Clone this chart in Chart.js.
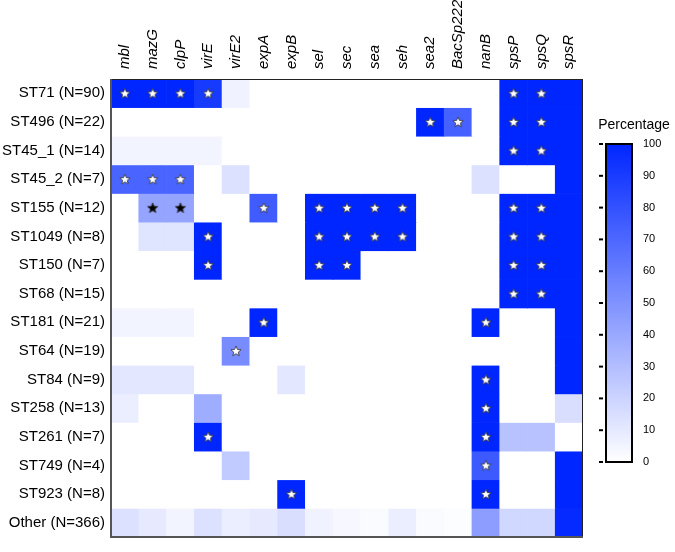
<!DOCTYPE html>
<html lang="en">
<head>
<meta charset="UTF-8">
<title>Gene prevalence by ST</title>
<script src="https://cdn.jsdelivr.net/npm/chart.js"></script>
<style>
  html, body { margin: 0; padding: 0; background: #fff; }
  .wrap { width: 675px; height: 552px; position: relative; }
</style>
</head>
<body>
<div class="wrap"><canvas id="heat"></canvas></div>
<script>
// columns (genes) and rows (sequence types)
const genes = ['mbl', 'mazG', 'clpP', 'virE', 'virE2', 'expA', 'expB', 'sel', 'sec', 'sea', 'seh',
               'sea2', 'BacSp222', 'nanB', 'spsP', 'spsQ', 'spsR'];
const groups = ['ST71 (N=90)', 'ST496 (N=22)', 'ST45_1 (N=14)', 'ST45_2 (N=7)', 'ST155 (N=12)',
                'ST1049 (N=8)', 'ST150 (N=7)', 'ST68 (N=15)', 'ST181 (N=21)', 'ST64 (N=19)',
                'ST84 (N=9)', 'ST258 (N=13)', 'ST261 (N=7)', 'ST749 (N=4)', 'ST923 (N=8)', 'Other (N=366)'];

// percentage of isolates carrying each gene, one list per row, in gene order
const pct = [
  [100, 100, 100, 91, 6, 0, 0, 0, 0, 0, 0, 0, 0, 0, 100, 100, 100],
  [0, 0, 0, 0, 0, 0, 0, 0, 0, 0, 0, 100, 73, 0, 100, 100, 100],
  [5, 5, 5, 5, 0, 0, 0, 0, 0, 0, 0, 0, 0, 0, 100, 100, 100],
  [71, 71, 71, 0, 14, 0, 0, 0, 0, 0, 0, 0, 0, 14, 0, 0, 100],
  [0, 42, 42, 0, 0, 75, 0, 100, 100, 100, 100, 0, 0, 0, 100, 100, 100],
  [0, 12, 12, 100, 0, 0, 0, 100, 100, 100, 100, 0, 0, 0, 100, 100, 100],
  [0, 0, 0, 100, 0, 0, 0, 100, 100, 0, 0, 0, 0, 0, 100, 100, 100],
  [0, 0, 0, 0, 0, 0, 0, 0, 0, 0, 0, 0, 0, 0, 100, 100, 100],
  [5, 5, 5, 0, 0, 100, 0, 0, 0, 0, 0, 0, 0, 100, 0, 0, 100],
  [0, 0, 0, 0, 53, 0, 0, 0, 0, 0, 0, 0, 0, 0, 0, 0, 100],
  [11, 11, 11, 0, 0, 0, 11, 0, 0, 0, 0, 0, 0, 100, 0, 0, 100],
  [8, 0, 0, 38, 0, 0, 0, 0, 0, 0, 0, 0, 0, 100, 0, 0, 15],
  [0, 0, 0, 100, 0, 0, 0, 0, 0, 0, 0, 0, 0, 100, 28, 28, 0],
  [0, 0, 0, 0, 24, 0, 0, 0, 0, 0, 0, 0, 0, 76, 0, 0, 100],
  [0, 0, 0, 0, 0, 0, 100, 0, 0, 0, 0, 0, 0, 100, 0, 0, 100],
  [14, 10, 5, 14, 8, 10, 15, 6, 3, 2, 8, 2, 1, 45, 18, 18, 98]
];

// significance markers: 1 = white star, 2 = black star
const stars = [
  [1, 1, 1, 1, 0, 0, 0, 0, 0, 0, 0, 0, 0, 0, 1, 1, 0],
  [0, 0, 0, 0, 0, 0, 0, 0, 0, 0, 0, 1, 1, 0, 1, 1, 0],
  [0, 0, 0, 0, 0, 0, 0, 0, 0, 0, 0, 0, 0, 0, 1, 1, 0],
  [1, 1, 1, 0, 0, 0, 0, 0, 0, 0, 0, 0, 0, 0, 0, 0, 0],
  [0, 2, 2, 0, 0, 1, 0, 1, 1, 1, 1, 0, 0, 0, 1, 1, 0],
  [0, 0, 0, 1, 0, 0, 0, 1, 1, 1, 1, 0, 0, 0, 1, 1, 0],
  [0, 0, 0, 1, 0, 0, 0, 1, 1, 0, 0, 0, 0, 0, 1, 1, 0],
  [0, 0, 0, 0, 0, 0, 0, 0, 0, 0, 0, 0, 0, 0, 1, 1, 0],
  [0, 0, 0, 0, 0, 1, 0, 0, 0, 0, 0, 0, 0, 1, 0, 0, 0],
  [0, 0, 0, 0, 1, 0, 0, 0, 0, 0, 0, 0, 0, 0, 0, 0, 0],
  [0, 0, 0, 0, 0, 0, 0, 0, 0, 0, 0, 0, 0, 1, 0, 0, 0],
  [0, 0, 0, 0, 0, 0, 0, 0, 0, 0, 0, 0, 0, 1, 0, 0, 0],
  [0, 0, 0, 1, 0, 0, 0, 0, 0, 0, 0, 0, 0, 1, 0, 0, 0],
  [0, 0, 0, 0, 0, 0, 0, 0, 0, 0, 0, 0, 0, 1, 0, 0, 0],
  [0, 0, 0, 0, 0, 0, 1, 0, 0, 0, 0, 0, 0, 1, 0, 0, 0],
  [0, 0, 0, 0, 0, 0, 0, 0, 0, 0, 0, 0, 0, 0, 0, 0, 0]
];

const scaleTicks = [0, 10, 20, 30, 40, 50, 60, 70, 80, 90, 100];

const FONT = '"Liberation Sans", Arial, sans-serif';
const TOP = [0, 38, 255];

function cellColor(v) {
    const t = v / 100;
    const c = TOP.map(k => Math.round(255 - (255 - k) * t));
    return `rgb(${c[0]},${c[1]},${c[2]})`;
}

function makeStar(fill) {
    const cv = document.createElement('canvas');
    cv.width = 14; cv.height = 14;
    const g = cv.getContext('2d');
    g.beginPath();
    for (let i = 0; i < 10; i++) {
        const r = i % 2 ? 2.4 : 5.4;
        const a = -Math.PI / 2 + i * Math.PI / 5;
        const px = 7 + r * Math.cos(a), py = 7.4 + r * Math.sin(a);
        i ? g.lineTo(px, py) : g.moveTo(px, py);
    }
    g.closePath();
    g.fillStyle = fill;
    g.fill();
    g.lineWidth = 0.8;
    g.strokeStyle = '#333';
    g.stroke();
    return cv;
}
const whiteStar = makeStar('#fff');
const blackStar = makeStar('#000');

// one floating-bar dataset per row -> heatmap cells
const cellSets = groups.map((g, r) => ({
    type: 'bar',
    label: g,
    data: genes.map(() => [r, r + 1]),
    backgroundColor: pct[r].map(cellColor),
    borderWidth: 0,
    barPercentage: 1,
    categoryPercentage: 1,
    grouped: false,
    order: 2
}));

const starPts = [], starImgs = [];
stars.forEach((row, r) => row.forEach((s, c) => {
    if (s) {
        starPts.push({ x: genes[c], y: r + 0.5 });
        starImgs.push(s === 2 ? blackStar : whiteStar);
    }
}));

// frame + colour bar legend
const extras = {
    id: 'extras',
    afterDraw(chart) {
        const { ctx, chartArea: a } = chart;
        ctx.save();
        ctx.strokeStyle = '#222';
        ctx.lineWidth = 1;
        ctx.beginPath();
        ctx.moveTo(a.left, a.top + 0.5); ctx.lineTo(a.right, a.top + 0.5);
        ctx.moveTo(a.right - 0.5, a.top); ctx.lineTo(a.right - 0.5, a.bottom);
        ctx.stroke();
        ctx.strokeStyle = '#555';
        ctx.lineWidth = 2;
        ctx.beginPath();
        ctx.moveTo(a.left, a.top); ctx.lineTo(a.left, a.bottom);
        ctx.lineTo(a.right, a.bottom);
        ctx.stroke();

        // colour bar
        const x0 = 606, x1 = 632, y0 = 144, y1 = 462;
        const grad = ctx.createLinearGradient(0, y1, 0, y0);
        grad.addColorStop(0, cellColor(0));
        grad.addColorStop(1, cellColor(100));
        ctx.fillStyle = grad;
        ctx.fillRect(x0, y0, x1 - x0, y1 - y0);
        ctx.strokeStyle = '#000';
        ctx.lineWidth = 2;
        ctx.strokeRect(x0, y0, x1 - x0, y1 - y0);

        ctx.fillStyle = '#000';
        ctx.font = '11px ' + FONT;
        ctx.textAlign = 'left';
        ctx.textBaseline = 'middle';
        ctx.lineWidth = 2;
        scaleTicks.forEach(t => {
            const y = y1 - (y1 - y0) * t / 100;
            ctx.beginPath();
            ctx.moveTo(599, y); ctx.lineTo(603, y);
            ctx.stroke();
            ctx.fillText(String(t), 643, y);
        });
        ctx.font = '14px ' + FONT;
        ctx.textAlign = 'center';
        ctx.fillText('Percentage', 634, 125);
        ctx.restore();
    }
};

new Chart(document.getElementById('heat'), {
    type: 'bar',
    data: {
        labels: genes,
        datasets: [
            {
                type: 'line',
                label: 'significant',
                data: starPts,
                showLine: false,
                pointStyle: starImgs,
                pointRadius: 6,
                order: 0
            },
            ...cellSets
        ]
    },
    options: {
        responsive: true,
        maintainAspectRatio: false,
        devicePixelRatio: 1,
        animation: false,
        events: [],
        layout: { padding: { left: 0, right: 92, top: 0, bottom: 1 } },
        plugins: { legend: { display: false }, tooltip: { enabled: false } },
        scales: {
            x: {
                type: 'category',
                position: 'top',
                grid: { display: false, drawTicks: false },
                border: { display: false },
                ticks: {
                    autoSkip: false,
                    minRotation: 90,
                    maxRotation: 90,
                    padding: 10,
                    labelOffset: 18,
                    color: '#000',
                    font: { family: FONT, size: 15, style: 'italic' }
                },
                afterFit(s) { s.height = 79; }
            },
            y: {
                type: 'linear',
                min: 0,
                max: groups.length,
                reverse: true,
                grid: { display: false, drawTicks: false },
                border: { display: false },
                afterBuildTicks(s) { s.ticks = groups.map((g, i) => ({ value: i + 0.5 })); },
                ticks: {
                    padding: 6,
                    color: '#000',
                    font: { family: FONT, size: 15 },
                    callback: (v, i) => groups[i]
                },
                afterFit(s) { s.width = 111; }
            }
        }
    },
    plugins: [extras]
});
</script>
</body>
</html>
